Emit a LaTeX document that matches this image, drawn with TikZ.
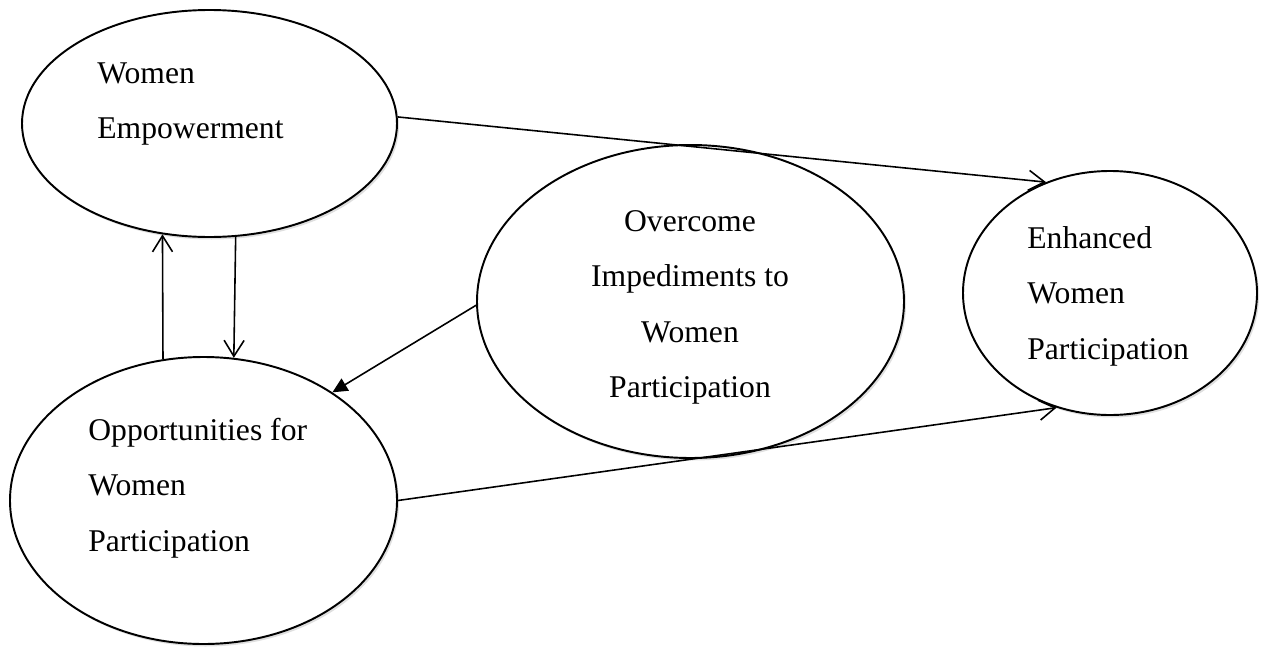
\documentclass[tikz,border=0pt]{standalone}
\usepackage{fontspec}
\setmainfont{Liberation Serif}
\usepackage{tikz}
\usetikzlibrary{shapes,arrows.meta,calc,positioning,shadows}
\tikzset{>={Straight Barb[length=3.2mm,width=4mm,line width=0.9pt]}}
\tikzset{
  bubble/.style={draw,ellipse,line width=1.1pt,fill=white,inner sep=0pt,
    drop shadow={shadow xshift=.4mm,shadow yshift=-.5mm,opacity=.25}},
  bubbletext/.style={inner sep=0pt,font=\fontsize{18}{31.5}\selectfont},
  link/.style={line width=0.9pt}
}

\begin{document}
\begin{tikzpicture}

            \useasboundingbox (0,0) rectangle (25.32,12.92);

            \node[bubble,minimum width=7.5cm,minimum height=4.54cm] (empower) at (4.19,10.45) {};
            \node[bubble,minimum width=7.74cm,minimum height=5.74cm] (oppor) at (4.07,2.91) {};
            \node[bubble,minimum width=8.54cm,minimum height=6.26cm] (overcome) at (13.81,6.89) {};
            \node[bubble,minimum width=5.88cm,minimum height=4.88cm] (enhanced) at (22.2,7.06) {};

            \node[bubbletext,anchor=north west,align=left] (empowerText) at (1.94,11.68) {Women\\Empowerment};
            \node[bubbletext,anchor=north west,align=left] (opporText) at (1.76,4.56) {Opportunities for\\Women\\Participation};
            \node[bubbletext,anchor=north,align=center] (overcomeText) at (13.8,8.72) {Overcome\\Impediments to\\Women\\Participation};
            \node[bubbletext,anchor=north west,align=left] (enhancedText) at (20.54,8.40) {Enhanced\\Women\\Participation};

            \draw[link,->] (empower.2.6) -- (enhanced.120.4);
            \draw[link,->] (oppor.106.2) -- (empower.247.3);
            \draw[link,->] (empower.283.1) -- (oppor.78.8);
            \draw[link,-{Triangle[length=3mm,width=2.8mm]}] (overcome.181.5) -- (oppor.40.7);
            \draw[link,->] (oppor.0.4) -- (enhanced.245.1);
          \end{tikzpicture}
\end{document}
